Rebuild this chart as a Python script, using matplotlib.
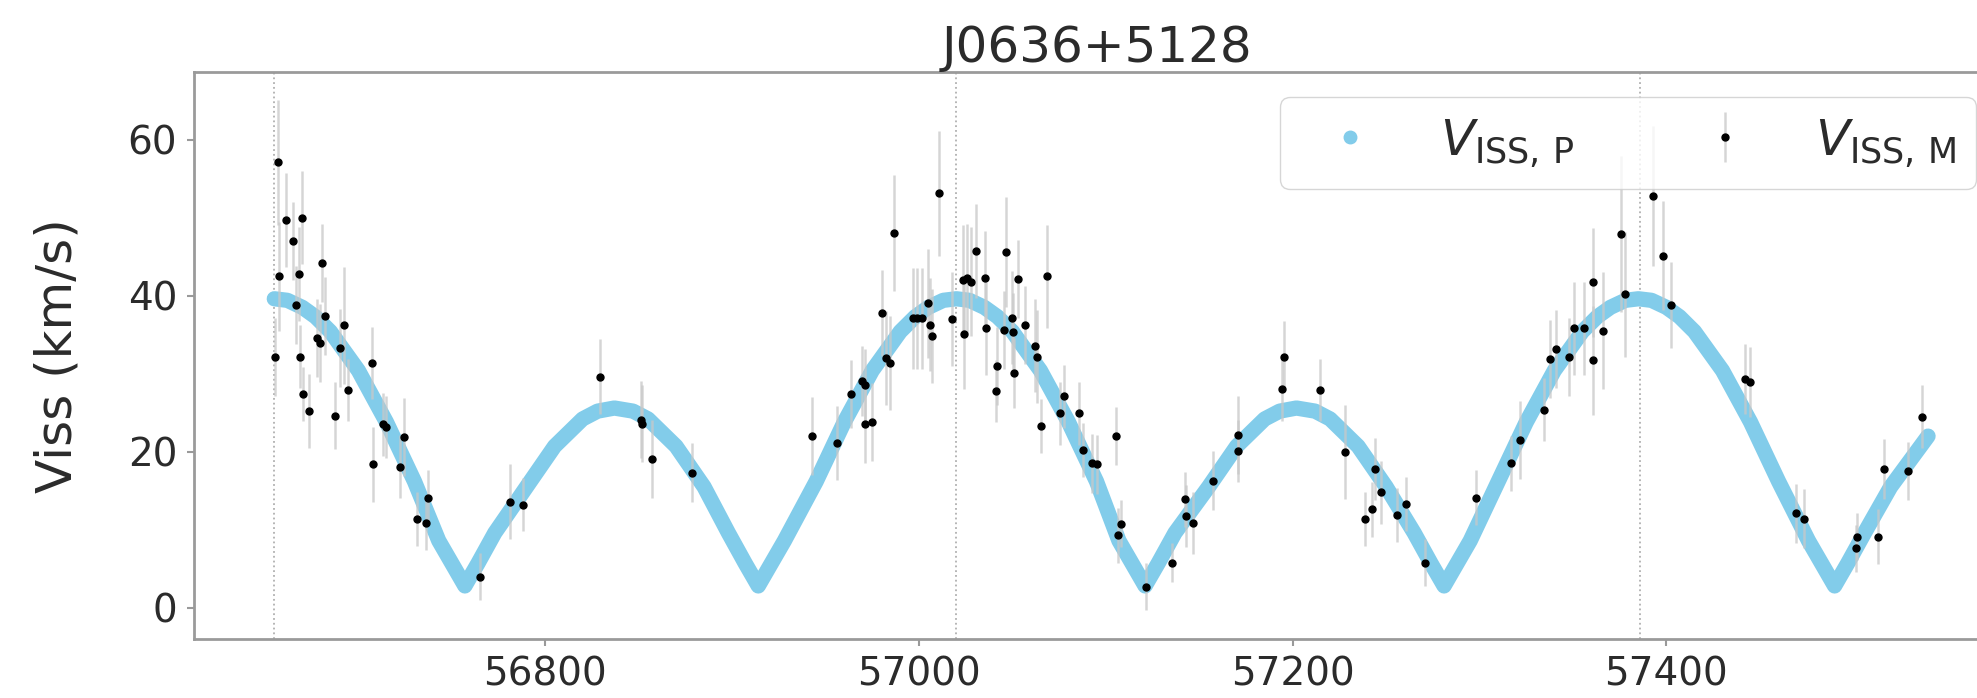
import matplotlib
matplotlib.use("Agg")
import matplotlib.pyplot as plt
from matplotlib.lines import Line2D

# predicted (model) scintillation velocity
model_mjd = [56655, 56662, 56670, 56677, 56685, 56700, 56715, 56730, 56743, 56750,
             56757, 56764, 56773, 56790, 56805, 56820, 56828, 56837,
             56847, 56855, 56870, 56885, 56898, 56907, 56914, 56921, 56928, 56945,
             56960, 56975, 56990, 56998, 57005, 57013, 57020,
             57027, 57035, 57042, 57050, 57065, 57080, 57095, 57107, 57114, 57121,
             57128, 57137, 57155, 57170, 57185, 57193, 57202,
             57212, 57220, 57235, 57250, 57265, 57274, 57281, 57288, 57295, 57310,
             57325, 57340, 57355, 57363, 57370, 57378, 57385,
             57392, 57400, 57407, 57415, 57430, 57445, 57460, 57476, 57483, 57490,
             57497, 57506, 57520, 57540]
model_v = [39.6, 39.4, 38.5, 37.3, 35.4, 30.4, 23.8, 16.2, 8.6, 5.7,
           2.8, 5.7, 9.6, 15.5, 20.7, 24.2, 25.2, 25.6,
           25.2, 24.2, 20.7, 15.5, 9.6, 5.7, 2.8, 5.7, 8.6, 16.2,
           23.8, 30.4, 35.4, 37.3, 38.5, 39.4, 39.6,
           39.4, 38.5, 37.3, 35.4, 30.4, 23.8, 16.2, 8.6, 5.7, 2.8,
           5.7, 9.6, 15.5, 20.7, 24.2, 25.2, 25.6,
           25.2, 24.2, 20.7, 15.5, 9.6, 5.7, 2.8, 5.7, 8.6, 16.2,
           23.8, 30.4, 35.4, 37.3, 38.5, 39.4, 39.6,
           39.4, 38.5, 37.3, 35.4, 30.4, 23.8, 16.2, 8.6, 5.7, 2.8,
           5.7, 9.6, 15.5, 22.0]

# measured values with errors
meas_mjd = [56655.5, 56657.1, 56657.3, 56661.2, 56665.2, 56666.6, 56668.4, 56668.7, 56669.6, 56670.5,
            56673.4, 56677.8, 56679.6, 56680.5, 56682.3, 56687.3, 56690.2, 56692.5, 56694.3, 56707.3,
            56708.0, 56713.0, 56714.8, 56722.3, 56724.6, 56731.2, 56736.2, 56737.1, 56765.1, 56781.3,
            56788.0, 56829.2, 56851.5, 56851.8, 56857.2, 56878.8, 56942.5, 56955.9, 56963.6, 56969.3,
            56971.1, 56971.1, 56974.7, 56980.0, 56982.3, 56984.5, 56986.8, 56996.6, 56999.1, 57001.4,
            57004.7, 57005.9, 57006.8, 57010.7, 57017.8, 57023.7, 57024.3, 57025.5, 57027.7, 57030.4,
            57035.3, 57035.7, 57041.2, 57041.6, 57045.7, 57046.6, 57049.6, 57050.5, 57051.0, 57053.2,
            57056.8, 57062.2, 57063.3, 57065.1, 57068.3, 57075.7, 57077.5, 57085.8, 57087.6, 57092.8,
            57095.4, 57105.5, 57106.5, 57108.3, 57121.5, 57135.2, 57142.6, 57143.0, 57146.6, 57157.3,
            57170.6, 57170.6, 57194.2, 57195.4, 57214.7, 57228.1, 57238.8, 57242.4, 57244.2, 57247.2,
            57255.8, 57260.8, 57271.0, 57298.1, 57316.8, 57321.8, 57334.7, 57337.9, 57341.1, 57347.7,
            57350.4, 57355.7, 57360.7, 57360.7, 57366.1, 57375.7, 57377.7, 57392.7, 57398.1, 57402.5,
            57442.3, 57444.6, 57469.1, 57473.5, 57501.2, 57502.1, 57513.2, 57516.3, 57529.4, 57536.9]
meas_v = [32.2, 57.1, 42.5, 49.7, 47.0, 38.8, 42.8, 32.2, 50.0, 27.4,
          25.2, 34.6, 33.9, 44.2, 37.4, 24.6, 33.3, 36.2, 27.9, 31.4,
          18.4, 23.5, 23.2, 18.1, 21.9, 11.4, 10.9, 14.1, 4.0, 13.6,
          13.2, 29.6, 24.1, 23.6, 19.1, 17.3, 22.0, 21.1, 27.4, 29.1,
          28.6, 23.5, 23.8, 37.8, 32.0, 31.4, 48.0, 37.1, 37.1, 37.1,
          39.0, 36.3, 34.8, 53.1, 37.0, 42.0, 35.1, 42.2, 41.8, 45.7,
          42.3, 35.8, 27.8, 31.0, 35.6, 45.6, 37.2, 35.4, 30.1, 42.1,
          36.3, 33.6, 32.2, 23.3, 42.5, 24.9, 27.1, 24.9, 20.2, 18.5,
          18.4, 22.0, 9.3, 10.8, 2.7, 5.8, 13.9, 11.8, 10.9, 16.3,
          22.2, 20.1, 28.0, 32.2, 27.9, 20.0, 11.4, 12.6, 17.8, 14.8,
          11.9, 13.3, 5.8, 14.1, 18.5, 21.5, 25.4, 31.9, 33.2, 32.1,
          35.8, 35.8, 41.7, 31.7, 35.5, 47.9, 40.2, 52.8, 45.1, 38.8,
          29.3, 28.9, 12.1, 11.4, 7.6, 9.1, 9.1, 17.8, 17.5, 24.5]
meas_err = [5.0, 8.0, 7.0, 6.0, 5.0, 5.0, 6.0, 4.0, 6.0, 3.5,
            4.7, 5.0, 5.0, 5.0, 5.0, 4.3, 5.0, 7.5, 4.0, 4.6,
            4.8, 4.0, 4.0, 4.0, 5.0, 3.5, 3.5, 3.5, 3.0, 4.8,
            3.4, 4.8, 4.9, 4.9, 5.0, 3.8, 5.0, 4.7, 4.4, 4.5,
            4.5, 5.0, 5.0, 5.5, 6.0, 6.0, 7.4, 6.5, 6.5, 6.5,
            7.0, 6.0, 6.0, 8.0, 6.0, 7.0, 7.0, 7.0, 7.0, 6.0,
            6.0, 6.0, 4.0, 5.0, 5.0, 7.0, 6.0, 5.0, 4.5, 5.0,
            5.0, 6.0, 6.0, 3.5, 6.6, 4.0, 4.0, 4.0, 3.5, 3.8,
            3.8, 3.7, 3.5, 3.0, 3.0, 2.5, 3.5, 4.0, 4.0, 3.8,
            5.0, 4.0, 4.0, 4.5, 4.0, 6.0, 3.5, 3.5, 4.0, 4.0,
            3.5, 3.5, 3.0, 3.5, 3.5, 5.0, 4.0, 5.0, 5.0, 5.0,
            6.0, 6.0, 7.0, 7.0, 7.5, 10.0, 8.0, 9.0, 7.0, 5.5,
            4.5, 4.5, 3.8, 3.8, 3.0, 3.0, 3.5, 3.8, 3.7, 4.0]

year_marks = [56655, 57020, 57386]

text_col = '#2b2b2b'
spine_col = '#9a9a9a'
curve_col = '#82CCEA'

fig = plt.figure(figsize=(19.77, 6.98), dpi=100)
ax = fig.add_axes([0.0981, 0.0845, 0.914, 0.8128])

ax.plot(model_mjd, model_v, '-', color=curve_col, lw=11,
        solid_capstyle='round', solid_joinstyle='round', zorder=2)

eb = ax.errorbar(meas_mjd, meas_v, yerr=meas_err, fmt='o', color='black', ms=5,
                 ecolor='#c8c8c8', elinewidth=1.8, capsize=0, zorder=3)
for bar in eb[2]:
    bar.set_alpha(0.75)

for m in year_marks:
    ax.axvline(m, color='#b0b0b0', ls=':', lw=1.3, zorder=1)

ax.set_xlim(56612, 57579)
ax.set_ylim(-4.0, 68.7)
ax.set_xticks([56800, 57000, 57200, 57400])
ax.set_yticks([0, 20, 40, 60])

for s in ax.spines.values():
    s.set_color(spine_col)
    s.set_linewidth(2)
ax.tick_params(colors=spine_col, labelcolor=text_col, labelsize=28,
               length=5, width=1.5, pad=7)

ax.set_ylabel('Viss (km/s)', fontsize=36, color=text_col, labelpad=33)
ax.set_title('J0636+5128', fontsize=36, color=text_col, pad=1)

p_handle = Line2D([], [], marker='o', ls='', color=curve_col, ms=9)
leg = ax.legend([p_handle, eb], [r'$V_{\mathrm{ISS,\,P}}$', r'$V_{\mathrm{ISS,\,M}}$'],
                loc='upper right', ncol=2, fontsize=36)
for t in leg.get_texts():
    t.set_color(text_col)

fig.savefig('out.png', dpi=100)
